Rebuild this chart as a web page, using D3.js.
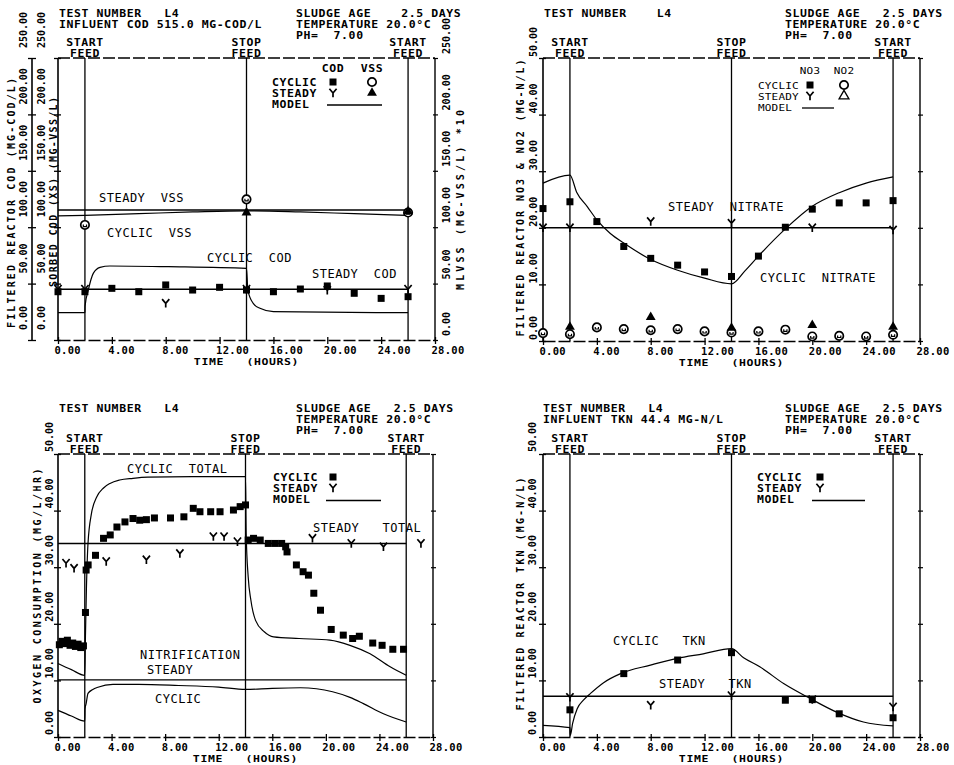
<!DOCTYPE html>
<html><head><meta charset="utf-8">
<script src="https://cdn.jsdelivr.net/npm/d3@7"></script>
<style>
body{margin:0;background:#fff;}
svg{display:block;background:#fff;}
text{font-family:"DejaVu Sans Mono","Liberation Mono",monospace;fill:#000;white-space:pre;}
.hdr{font-size:11.5px;font-weight:bold;letter-spacing:0.6px;}
.leg{font-size:11px;letter-spacing:0.2px;}
.tl{font-size:10.5px;font-weight:bold;letter-spacing:0.3px;}
.lbl{font-size:12px;letter-spacing:0.5px;}
.vt{font-size:10px;font-weight:bold;}
</style></head><body>
<svg id="c" width="954" height="765"></svg>
<script>
// ---------- shared ----------
const timeTicks=[0,4,8,12,16,20,24,28];
const feedTimes=[2,14,26];
const feedWords=["START","STOP","START"];
const steadySpan=[0,26];

// ---------- Panel A : COD & VSS ----------
const codTicks=[0,50,100,150,200,250];
const codCyclicT=[0,2,4,6,8,10,12,14,16,18,20,22,24,26];
const codCyclic=[42.8,42.8,45.8,42.8,48.8,44.3,46.7,44.3,42.8,45.2,47.9,41.4,36.9,38.4];
const codSteadyT=[0,2,8,14,20,26];
const codSteady=[45,45,32.5,45,44,45];
const vssCyclicT=[2,14,26];
const vssCyclic=[102,124.7,113];
const vssSteadyT=[14,26];
const vssSteady=[113,114];
const codModelT=[0,2,2.01,2.25,2.62,3.12,3.86,8.2,14,14.1,14.5,15,16,26];
const codModel=[24.2,24.2,30,44.3,59.1,64.4,65.6,65,63.5,44.3,32.5,28.1,25.1,24.2];
const vssModelT=[0,2,6,10,14,18,22,26];
const vssModel=[110,110.5,112,113.5,114.5,113.5,112,110.5];
const codSteadyLevel=45;
const vssSteadyLevel=115.2;

// ---------- Panel B : NO3 & NO2 ----------
const nTicks=[0,10,20,30,40,50];
const no3CyclicT=[0,2,4,6,8,10,12,14,16,18,20,22,24,26];
const no3Cyclic=[23.4,24.6,21.1,16.7,14.6,13.4,12.2,11.4,15.0,20.1,23.3,24.4,24.4,24.8];
const no3SteadyT=[0,2,8,14,20,26];
const no3Steady=[20,20,21.1,20.8,20,19.6];
const no2CyclicT=[0,2,4,6,8,10,12,14,16,18,20,22,24,26];
const no2Cyclic=[1.4,1.2,2.4,2.1,1.9,2.1,1.7,1.5,1.7,2.0,0.8,0.9,0.8,1.1];
const no2SteadyT=[2,8,14,20,26];
const no2Steady=[2.5,4.2,2.3,2.8,2.5];
const no3ModelT=[0,2,2.5,3.3,4,5,6,8,10,12,14,15,16,18,20,22,24,26];
const no3Model=[27.9,29.3,26.3,23.7,21.4,19.0,17.3,14.4,12.5,11.1,10.1,12.4,15.0,19.8,23.8,26.2,27.9,29.0];
const no3SteadyLevel=20.0;

// ---------- Panel C : oxygen consumption ----------
const ocTicks=[0,10,20,30,40,50];
const ocCyclicT=[0.1,0.3,0.5,0.7,0.9,1.1,1.3,1.5,1.7,1.9,2.05,2.1,2.25,2.8,3.4,3.9,4.4,5.0,5.6,6.1,6.6,7.2,8.4,9.4,10.1,10.6,11.4,12.1,13.1,13.6,14.0,14.2,14.6,15.1,15.7,16.2,16.7,17.0,17.1,17.8,18.3,18.7,19.1,19.6,20.4,21.3,22.0,22.5,23.5,24.2,25.0,25.8];
const ocCyclic=[16.3,16.9,16.5,17.1,16.2,16.6,16.0,16.4,15.8,16.1,22.0,29.5,30.4,32.1,35.1,35.7,37.1,38.0,38.6,38.3,38.4,38.7,38.7,38.9,40.4,39.8,39.8,39.8,40.1,40.7,41.0,34.8,35.1,34.8,34.2,34.2,34.2,33.6,32.7,30.4,29.2,28.6,25.4,22.4,19.0,18.0,17.4,17.8,16.6,16.2,15.5,15.5];
const ocSteadyT=[0.6,1.2,3.6,6.6,9.1,11.6,12.4,13.4,19.0,21.9,24.3,27.1];
const ocSteady=[30.7,29.8,31.0,31.3,32.4,35.4,35.4,34.5,35.1,34.2,33.6,34.2];
const totModelT=[0,1,2,2.05,2.12,2.24,2.5,2.89,3.4,3.88,4.6,5.6,6.7,10,14,14.05,14.2,14.4,14.75,15.4,16.1,18,20.3,21.8,23.3,24.8,26];
const totModel=[13.0,11.9,10.9,18,26,34.2,39.5,42.4,44.0,44.8,45.4,45.7,45.9,46,46,36,28.3,24.2,20.6,18.6,17.7,17.4,17.1,16.2,14.7,12.4,10.9];
const nitModelT=[0,1,2,2.02,2.1,2.24,2.6,2.98,4.1,6,9,12,14,16,18.1,20.5,21.8,22.8,24.3,26];
const nitModel=[4.7,3.7,2.8,5.0,5.9,7.7,8.4,8.8,9.3,9.3,9.1,8.8,8.4,8.6,8.7,8.0,7.0,5.9,4.1,2.65];
const totSteadyLevel=34.2;
const nitSteadyLevel=10.1;

// ---------- Panel D : TKN ----------
const tknTicks=[0,10,20,30,40,50];
const tknCyclicT=[2,6,10,14,18,20,22,26];
const tknCyclic=[4.8,11.2,13.6,14.9,6.5,6.6,4.1,3.4];
const tknSteadyT=[2,8,14,20,26];
const tknSteady=[7.0,5.6,7.3,6.6,5.3];
const tknModelT=[0,2,2.03,2.2,2.54,3.0,3.53,4.5,5.76,7.98,9.96,11.9,14,14.9,16.1,17.9,19.84,21.8,23.8,26];
const tknModel=[2.07,1.65,0.3,2.4,5.0,6.5,7.7,9.6,11.2,12.7,13.9,14.7,15.6,14.0,12.4,9.4,6.8,4.4,2.65,1.95];
const tknSteadyLevel=7.2;

// ---------- drawing ----------
const svg=d3.select("#c");
svg.append("rect").attr("width",954).attr("height",765).attr("fill","#fff");
const zip=(T,V)=>T.map((t,i)=>[t,V[i]]);
const SY=0.84; // plotter lettering is squat

function makePanel(x0,x1,y0,y1,ymax){
  const g=svg.append("g");
  const x=d3.scaleLinear().domain([0,28]).range([x0,x1]);
  const y=d3.scaleLinear().domain([0,ymax]).range([y0,y1]);
  return {g,x,y};
}
function htext(g,s,x,y,cls,anchor,sy){
  return g.append("text").attr("class",cls||"hdr").attr("transform",`translate(${x},${y}) scale(1,${sy||SY})`)
    .attr("text-anchor",anchor||"start").text(s);
}
function vtext(g,s,cx,cy,anchor,cls,len){
  const t=g.append("text").attr("class",cls).attr("transform",`translate(${cx},${cy}) rotate(-90)`).attr("text-anchor",anchor).text(s);
  if(len) t.attr("textLength",len).attr("lengthAdjust","spacing");
  return t;
}
function frame(P,ticks,labOff,labX){
  const {g,x,y}=P;
  const [x0,x1]=x.range(),[y0,y1]=y.range();
  const ln=(a,b,c,d,w,da)=>g.append("line").attr("x1",a).attr("y1",b).attr("x2",c).attr("y2",d).attr("stroke","#000").attr("stroke-width",w).attr("stroke-dasharray",da||null);
  ln(x0,y0,x0,y1,1.6); ln(x1,y0,x1,y1,1.4);
  ln(x0,y1,x1,y1,1.4,"12,3");
  g.append("g").attr("transform",`translate(0,${y0})`)
   .call(d3.axisBottom(x).tickValues(timeTicks).tickSize(4).tickSizeOuter(0).tickFormat(d3.format(".2f")))
   .call(a=>{a.attr("font-family",null).attr("font-size",null);
     a.select(".domain").attr("stroke-dasharray","12,3").attr("stroke-width",1.4);
     a.selectAll(".tick line").attr("y1",-3).attr("stroke-width",1.3);
     a.selectAll("text").attr("class","tl").attr("text-anchor","start").attr("x",-4).attr("dy",null).attr("y",14);});
  g.append("g").attr("transform",`translate(${x0},0)`)
   .call(d3.axisLeft(y).tickValues(ticks).tickSize(4).tickSizeOuter(0).tickFormat(""))
   .call(a=>{a.select(".domain").remove();a.selectAll(".tick line").attr("x2",-4).attr("x1",3).attr("stroke-width",1.3);});
  g.append("g").attr("transform",`translate(${x1},0)`)
   .call(d3.axisRight(y).tickValues(ticks).tickSize(3).tickSizeOuter(0).tickFormat(""))
   .call(a=>{a.select(".domain").remove();a.selectAll(".tick line").attr("x1",-2).attr("stroke-width",1.2);});
  ticks.forEach(v=>vtext(g,d3.format(".2f")(v),labX,y(v)+labOff,"start","vt"));
  feedTimes.forEach((t,i)=>{
    ln(x(t),y0,x(t),y1,1.3);
    htext(g,feedWords[i],x(t),y1-12,"hdr","middle");
    htext(g,"FEED",x(t),y1-1,"hdr","middle");
  });
  htext(g,"TIME   (HOURS)",x(14),y0+24.5,"hdr","middle",0.74);
}
function modelLine(P,T,V){
  P.g.append("path").datum(zip(T,V)).attr("fill","none").attr("stroke","#000").attr("stroke-width",1.2)
   .attr("d",d3.line().x(d=>P.x(d[0])).y(d=>P.y(d[1])).curve(d3.curveMonotoneX));
}
function levelLine(P,v){
  P.g.append("path").datum(steadySpan.map(t=>[t,v])).attr("fill","none").attr("stroke","#000").attr("stroke-width",1.4)
   .attr("d",d3.line().x(d=>P.x(d[0])).y(d=>P.y(d[1])));
}
function squares(P,T,V){
  const s=7;
  P.g.append("g").selectAll("rect").data(zip(T,V)).join("rect")
   .attr("x",d=>P.x(d[0])-s/2).attr("y",d=>P.y(d[1])-s/2).attr("width",s).attr("height",s).attr("fill","#000");
}
const yPath="M-3.6,-4.2L0,0L3.6,-4.2M0,0L0,4.2";
function ys(P,T,V){
  P.g.append("g").selectAll("path").data(zip(T,V)).join("path")
   .attr("transform",d=>`translate(${P.x(d[0])},${P.y(d[1])})`).attr("d",yPath)
   .attr("fill","none").attr("stroke","#000").attr("stroke-width",1.7);
}
function circles(P,T,V){
  const gg=P.g.append("g").selectAll("g").data(zip(T,V)).join("g")
   .attr("transform",d=>`translate(${P.x(d[0])},${P.y(d[1])})`);
  gg.append("circle").attr("r",4.2).attr("fill","#fff").attr("stroke","#000").attr("stroke-width",1.7);
  gg.append("path").attr("d","M-1.6,-0.5L-1.6,1.6L1.6,1.6L1.6,-0.5").attr("fill","none").attr("stroke","#000").attr("stroke-width",1.2);
}
function tris(P,T,V){
  P.g.append("g").selectAll("path").data(zip(T,V)).join("path")
   .attr("transform",d=>`translate(${P.x(d[0])},${P.y(d[1])})`)
   .attr("d",d3.symbol(d3.symbolTriangle,42)).attr("fill","#000");
}
function legendMarks(g,items){
  items.forEach(it=>{
    const m=g.append("g").attr("transform",`translate(${it[1]},${it[2]})`);
    if(it[0]==="sq") m.append("rect").attr("x",-3.5).attr("y",-3.5).attr("width",7).attr("height",7);
    if(it[0]==="y") m.append("path").attr("d",yPath).attr("fill","none").attr("stroke","#000").attr("stroke-width",1.7);
    if(it[0]==="ci") m.append("circle").attr("r",4.2).attr("fill","#fff").attr("stroke","#000").attr("stroke-width",1.7);
    if(it[0]==="tri") m.append("path").attr("d",d3.symbol(d3.symbolTriangle,42)).attr("fill","#000");
    if(it[0]==="otri") m.append("path").attr("d",d3.symbol(d3.symbolTriangle,42)).attr("fill","#fff").attr("stroke","#000").attr("stroke-width",1.3);
  });
}
function legendLine(g,xa,xb,yy){g.append("line").attr("x1",xa).attr("x2",xb).attr("y1",yy).attr("y2",yy).attr("stroke","#000").attr("stroke-width",1.3);}

// ===== Panel A =====
const A=makePanel(58,435,340,58,250);
frame(A,codTicks,-10,45);
A.g.append("line").attr("x1",32).attr("x2",32).attr("y1",A.y(0)).attr("y2",A.y(250)).attr("stroke","#000").attr("stroke-width",1.6);
A.g.append("g").attr("transform","translate(32,0)")
 .call(d3.axisLeft(A.y).tickValues(codTicks).tickSize(4).tickSizeOuter(0).tickFormat(""))
 .call(a=>{a.select(".domain").remove();a.selectAll(".tick line").attr("x1",4).attr("stroke-width",1.3);});
codTicks.forEach(v=>vtext(A.g,d3.format(".2f")(v),27,A.y(v)-10,"start","vt"));
codTicks.forEach(v=>vtext(A.g,d3.format(".2f")(v),450,A.y(v)-4,"start","vt"));
vtext(A.g,"FILTERED REACTOR COD (MG-COD/L)",15,203,"middle","vt",250);
vtext(A.g,"SORBED COD (XS) (MG-VSS/L)",57,192,"middle","vt",190);
vtext(A.g,"MLVSS (MG-VSS/L) *10",464,200,"middle","vt",180);
htext(A.g,"TEST NUMBER   L4",59,17);
htext(A.g,"INFLUENT COD 515.0 MG-COD/L",59,28);
htext(A.g,"SLUDGE AGE    2.5 DAYS",296,17);
htext(A.g,"TEMPERATURE 20.0°C",296,28);
htext(A.g,"PH=  7.00",296,39);
levelLine(A,vssSteadyLevel);
levelLine(A,codSteadyLevel);
modelLine(A,vssModelT,vssModel);
modelLine(A,codModelT,codModel);
squares(A,codCyclicT,codCyclic);
ys(A,codSteadyT,codSteady);
circles(A,vssCyclicT,vssCyclic);
tris(A,vssSteadyT,vssSteady);
htext(A.g,"STEADY  VSS",99,201.5,"lbl","start",1);
htext(A.g,"CYCLIC  VSS",107,236.5,"lbl","start",1);
htext(A.g,"CYCLIC  COD",207,261.5,"lbl","start",1);
htext(A.g,"STEADY  COD",312,278,"lbl","start",1);
htext(A.g,"COD",333,72,"hdr","middle");
htext(A.g,"VSS",372,72,"hdr","middle");
htext(A.g,"CYCLIC",272,86);
htext(A.g,"STEADY",272,97);
htext(A.g,"MODEL",272,108);
legendMarks(A.g,[["sq",333,82],["ci",372,82],["y",333,93],["tri",372,93]]);
legendLine(A.g,327,382,105);

// ===== Panel B =====
const B=makePanel(543,920,341,58,50);
frame(B,nTicks,-1,537);
vtext(B.g,"FILTERED REACTOR NO3 & NO2 (MG-N/L)",524,198,"middle","vt",277);
htext(B.g,"TEST NUMBER    L4",544,17);
htext(B.g,"SLUDGE AGE   2.5 DAYS",785,17);
htext(B.g,"TEMPERATURE 20.0°C",785,28);
htext(B.g,"PH=  7.00",785,39);
levelLine(B,no3SteadyLevel);
modelLine(B,no3ModelT,no3Model);
squares(B,no3CyclicT,no3Cyclic);
ys(B,no3SteadyT,no3Steady);
circles(B,no2CyclicT,no2Cyclic);
tris(B,no2SteadyT,no2Steady);
htext(B.g,"STEADY  NITRATE",668,210.5,"lbl","start",1);
htext(B.g,"CYCLIC  NITRATE",760,281.5,"lbl","start",1);
htext(B.g,"NO3",810,74,"leg","middle");
htext(B.g,"NO2",844,74,"leg","middle");
htext(B.g,"CYCLIC",758,89,"leg");
htext(B.g,"STEADY",758,100,"leg");
htext(B.g,"MODEL",758,111,"leg");
legendMarks(B.g,[["sq",810,85],["ci",844,85],["y",810,96],["otri",844,96]]);
legendLine(B.g,802,834,108);

// ===== Panel C =====
const C=makePanel(58,433,737,454,50);
frame(C,ocTicks,-2,53);
vtext(C.g,"OXYGEN CONSUMPTION (MG/L/HR)",41,586,"middle","vt",235);
htext(C.g,"TEST NUMBER   L4",59,412);
htext(C.g,"SLUDGE AGE   2.5 DAYS",296,412);
htext(C.g,"TEMPERATURE 20.0°C",296,423);
htext(C.g,"PH=  7.00",296,434);
levelLine(C,totSteadyLevel);
levelLine(C,nitSteadyLevel);
modelLine(C,totModelT,totModel);
modelLine(C,nitModelT,nitModel);
squares(C,ocCyclicT,ocCyclic);
ys(C,ocSteadyT,ocSteady);
htext(C.g,"CYCLIC  TOTAL",127,473,"lbl","start",1);
htext(C.g,"STEADY   TOTAL",313,531.5,"lbl","start",1);
htext(C.g,"NITRIFICATION",140,659,"lbl","start",1);
htext(C.g,"STEADY",147,674,"lbl","start",1);
htext(C.g,"CYCLIC",155,702.5,"lbl","start",1);
htext(C.g,"CYCLIC",273,481);
htext(C.g,"STEADY",273,492);
htext(C.g,"MODEL",273,503);
legendMarks(C.g,[["sq",333,477],["y",333,488]]);
legendLine(C.g,326,381,500.5);

// ===== Panel D =====
const D=makePanel(543,920,737,454,50);
frame(D,tknTicks,-2,536);
vtext(D.g,"FILTERED REACTOR TKN (MG-N/L)",524,594,"middle","vt",233);
htext(D.g,"TEST NUMBER   L4",543,412);
htext(D.g,"INFLUENT TKN 44.4 MG-N/L",543,423);
htext(D.g,"SLUDGE AGE   2.5 DAYS",785,412);
htext(D.g,"TEMPERATURE 20.0°C",785,423);
htext(D.g,"PH=  7.00",785,434);
levelLine(D,tknSteadyLevel);
modelLine(D,tknModelT,tknModel);
squares(D,tknCyclicT,tknCyclic);
ys(D,tknSteadyT,tknSteady);
htext(D.g,"CYCLIC   TKN",613,645,"lbl","start",1);
htext(D.g,"STEADY   TKN",659,688,"lbl","start",1);
htext(D.g,"CYCLIC",757,481);
htext(D.g,"STEADY",757,492);
htext(D.g,"MODEL",757,503);
legendMarks(D.g,[["sq",820,477],["y",820,488]]);
legendLine(D.g,812,865,500.5);
</script></body></html>
